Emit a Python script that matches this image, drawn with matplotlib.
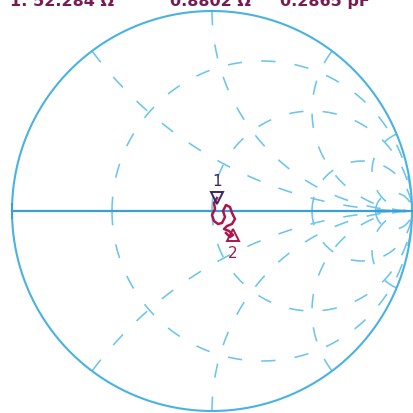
import numpy as np
import matplotlib
matplotlib.use("Agg")
import matplotlib.pyplot as plt

# ---- data ----
r_circles = [1/3, 1, 3, 10]          # constant-resistance circles (normalised)
x_arcs = [0.5, 1, 2, 5]              # constant-reactance arcs (+/-)
header_texts = ["1: 52.284 \u03a9", "0.8802 \u03a9", "0.2865 pF"]
trace_re = [0.025, 0.01, 0.015, 0.0, 0.01, 0.03, 0.05, 0.065, 0.055, 0.07,
            0.09, 0.1, 0.115, 0.1, 0.075, 0.06, 0.085, 0.105, 0.09, 0.07]
trace_im = [0.065, 0.04, 0.01, -0.02, -0.05, -0.065, -0.06, -0.03, 0.0, 0.03,
            0.02, -0.01, -0.04, -0.065, -0.075, -0.09, -0.1, -0.12, -0.13, -0.11]
marker_labels = ["1", "2"]
marker_index = [0, 17]

# ---- layout ----
W = H = 414
CX, CY, R = 212, 212, 200
header_px = [10, 170, 280]

grid_c = "#6cc5ec"
frame_c = "#4ab2e2"
dash = (0, (9, 12))

fig = plt.figure(figsize=(W / 100, H / 100), dpi=100)
ax = fig.add_axes([0, 0, 1, 1])
ax.set_xlim((0 - CX) / R, (W - CX) / R)
ax.set_ylim((CY - H) / R, CY / R)
ax.axis("off")


def gamma(z):
    g = (z - 1) / (z + 1)
    return g.real, g.imag


t = np.tan(np.linspace(0, np.pi / 2 * 0.9995, 3000))

# resistance circles: start on the axis, go up and down
for r in r_circles:
    for s in (1, -1):
        gx, gy = gamma(r + 1j * s * t)
        ax.plot(gx, gy, color=grid_c, lw=1.15, linestyle=dash)

# reactance arcs: start on the outer circle
for xv in x_arcs:
    for s in (1, -1):
        gx, gy = gamma(t + 1j * s * xv)
        ax.plot(gx, gy, color=grid_c, lw=1.15, linestyle=dash)

# outer circle and real axis
th = np.linspace(0, 2 * np.pi, 720)
ax.plot(np.cos(th), np.sin(th), color=frame_c, lw=1.5)
ax.plot([-1, 1], [0, 0], color="#3a9fd6", lw=1.6)
ax.plot([-1, -1], [-0.035, 0.035], color="#3a9fd6", lw=1.4)

# trace
ax.plot(trace_re, trace_im, color="#b0144c", lw=1.8)

# markers
mk_style = ["v", "^"]
lbl_off = [0.085, -0.085]
lbl_col = ["#3c2468", "#a8184c"]
for lab, idx, m, off, c in zip(marker_labels, marker_index, mk_style, lbl_off, lbl_col):
    ax.plot(trace_re[idx], trace_im[idx], marker=m, ms=8, mfc="none",
            mec=c, mew=1.4)
    ax.text(trace_re[idx], trace_im[idx] + off, lab, color=c, fontsize=11,
            ha="center", va="center")

# header
for txt, px in zip(header_texts, header_px):
    fig.text(px / W, 1 - 6 / H, txt, color="#7a1a52", fontsize=11.5,
             fontweight="bold", va="baseline", ha="left")

fig.savefig("out.png", dpi=100, facecolor="white")
